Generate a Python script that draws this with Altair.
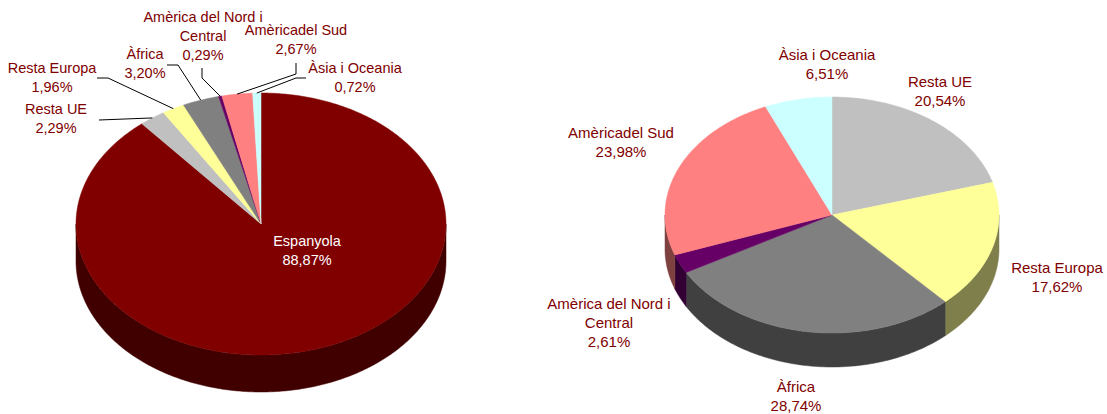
import numpy as np
import pandas as pd
import altair as alt

# Population shares by origin, clockwise from twelve o'clock
total_categories = ["Espanyola", "Resta UE", "Resta Europa", "Àfrica",
                    "Amèrica del Nord i\nCentral", "Amèricadel Sud", "Àsia i Oceania"]
total_shares = [88.87, 2.29, 1.96, 3.20, 0.29, 2.67, 0.72]
total_colors = ["#800000", "#C0C0C0", "#FFFF99", "#808080", "#660066", "#FF8080", "#CCFFFF"]

foreign_categories = ["Resta UE", "Resta Europa", "Àfrica",
                      "Amèrica del Nord i\nCentral", "Amèricadel Sud", "Àsia i Oceania"]
foreign_shares = [20.54, 17.62, 28.74, 2.61, 23.98, 6.51]
foreign_colors = ["#C0C0C0", "#FFFF99", "#808080", "#660066", "#FF8080", "#CCFFFF"]

# Page layout: ellipse centre, radii and wall depth of each pie
total_pie = dict(cx=261, cy=224, rx=185, ry=131, depth=37)
foreign_pie = dict(cx=832, cy=215, rx=167, ry=118, depth=34)

# Centre of each label's first line
total_label_xy = [(307, 242), (56, 110), (52, 69), (145, 55), (203, 18), (296, 31), (355, 69)]
foreign_label_xy = [(940, 82), (1057, 268), (796, 387), (609, 304), (621, 133), (827, 55)]
total_label_colors = ["#FFFFFF"] + ["#800000"] * 6
total_font_size = 14.5
foreign_font_size = 15

# Leader lines start at the label, bend at the elbow and finish on the slice rim
total_leader_paths = {
    1: [(99, 120)],
    2: [(97, 78), (108, 78)],
    3: [(167, 65), (178, 65)],
    4: [(202, 68), (202, 78)],
    5: [(296, 63), (296, 74)],
    6: [(306, 78), (296, 78)],
}


def rim(pie, angle):
    return pie["cx"] + pie["rx"] * np.sin(angle), pie["cy"] - pie["ry"] * np.cos(angle)


def shade(color):
    """Half-brightness version of a hex colour, used for the pie walls."""
    channels = [int(color[i:i + 2], 16) // 2 for i in (1, 3, 5)]
    return "#" + "".join(f"{c:02X}" for c in channels)


def slice_tables(name, pie, shares, colors):
    faces, walls = [], []
    limits = np.radians(np.cumsum([0] + shares) * 3.6)
    for k, (a, b, color) in enumerate(zip(limits[:-1], limits[1:], colors)):
        n = max(int(np.degrees(b - a) * 1.5), 2) + 1
        arc = np.linspace(a, b, n)
        x, y = rim(pie, arc)
        xs = [pie["cx"], *x, pie["cx"]]
        ys = [pie["cy"], *y, pie["cy"]]
        for i, (px, py) in enumerate(zip(xs, ys)):
            faces.append(dict(key=f"{name}-{k}", i=i, x=px, y=py, color=color))
        # Only the front half of the rim shows a wall
        lo, hi = max(a, np.pi / 2), min(b, 3 * np.pi / 2)
        if lo < hi:
            wall = np.linspace(lo, hi, max(int(np.degrees(hi - lo) * 1.5), 2) + 1)
            wx, wy = rim(pie, wall)
            xs = [*wx, *wx[::-1], wx[0]]
            ys = [*wy, *(wy[::-1] + pie["depth"]), wy[0]]
            for i, (px, py) in enumerate(zip(xs, ys)):
                walls.append(dict(key=f"{name}-{k}", i=i, x=px, y=py, color=shade(color)))
    return faces, walls


faces_a, walls_a = slice_tables("total", total_pie, total_shares, total_colors)
faces_b, walls_b = slice_tables("foreign", foreign_pie, foreign_shares, foreign_colors)
faces = pd.DataFrame(faces_a + faces_b)
walls = pd.DataFrame(walls_a + walls_b)


def percent(value):
    return f"{value:.2f}%".replace(".", ",")


labels = pd.DataFrame(
    [dict(text=f"{c}\n{percent(s)}", x=p[0], y=p[1], color=col, font_size=total_font_size)
     for c, s, p, col in zip(total_categories, total_shares, total_label_xy, total_label_colors)]
    + [dict(text=f"{c}\n{percent(s)}", x=p[0], y=p[1], color="#800000", font_size=foreign_font_size)
       for c, s, p in zip(foreign_categories, foreign_shares, foreign_label_xy)]
)

leader_rows = []
cumulative = np.cumsum([0] + total_shares)
for k, path in total_leader_paths.items():
    mid = np.radians((cumulative[k] + cumulative[k + 1]) / 2 * 3.6)
    end = rim(total_pie, mid)
    for i, (px, py) in enumerate([*path, end]):
        leader_rows.append(dict(key=k, i=i, x=px, y=py))
leaders = pd.DataFrame(leader_rows)

x_enc = alt.X("x:Q", scale=alt.Scale(domain=[0, 1107], nice=False, zero=False), axis=None)
y_enc = alt.Y("y:Q", scale=alt.Scale(domain=[414, 0], nice=False, zero=False), axis=None)


def filled_layer(table):
    return alt.Chart(table).mark_line(strokeWidth=0.5, interpolate="linear").encode(
        x=x_enc, y=y_enc,
        order="i:Q",
        detail="key:N",
        stroke=alt.Stroke("color:N", scale=None),
        fill=alt.Fill("color:N", scale=None),
    )


leader_layer = alt.Chart(leaders).mark_line(color="#000000", strokeWidth=1).encode(
    x=x_enc, y=y_enc, order="i:Q", detail="key:N"
)

text_layer = alt.Chart(labels).mark_text(
    font="Liberation Sans", align="center", baseline="middle",
    lineBreak="\n", lineHeight=19
).encode(
    x=x_enc, y=y_enc, text="text:N",
    color=alt.Color("color:N", scale=None),
    size=alt.Size("font_size:Q", scale=None),
)

chart = alt.layer(
    filled_layer(walls), filled_layer(faces), leader_layer, text_layer
).properties(
    width=1107, height=414, padding=0, background="#FFFFFF",
    autosize=alt.AutoSizeParams(type="none"),
).configure_view(stroke=None)

chart.save("out.html", embed_options={"renderer": "svg", "actions": False})
